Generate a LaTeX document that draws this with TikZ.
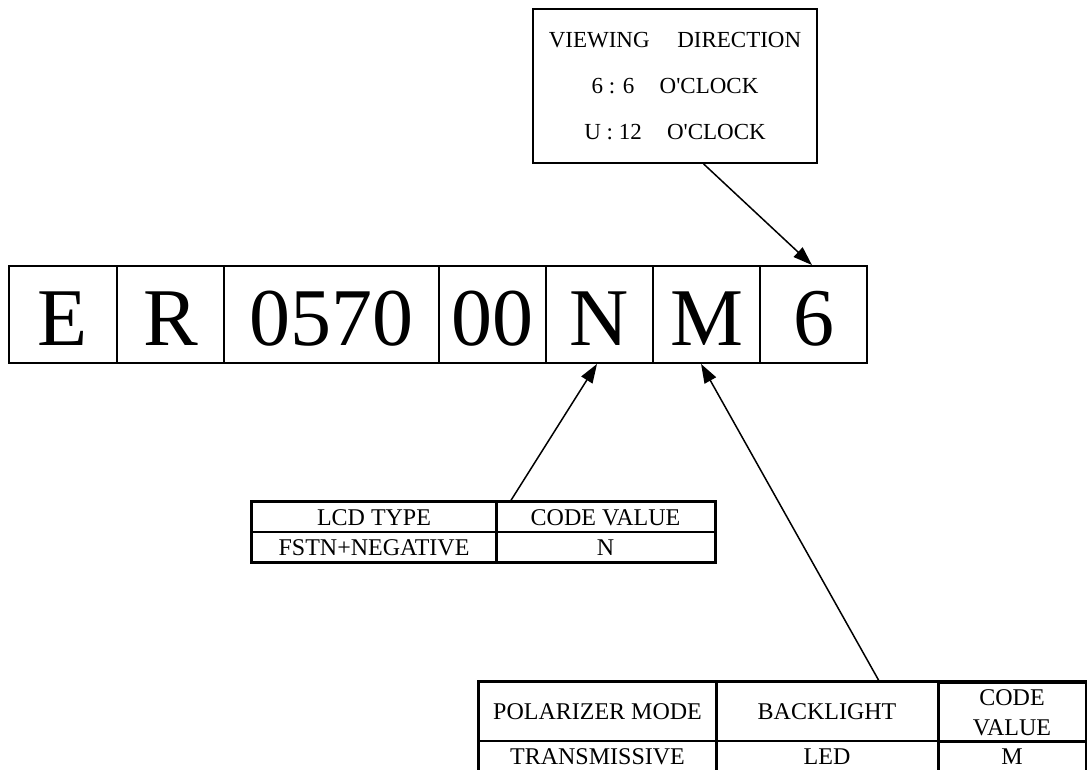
\documentclass[tikz,border=0pt]{standalone}
\usepackage{fontspec}
\setmainfont{Liberation Serif}
\usetikzlibrary{arrows.meta,calc}
\begin{document}
\begin{tikzpicture}[x=1pt,y=-1pt,
  big/.style={draw, line width=1.9pt, minimum height=97pt, inner sep=0pt,
    font=\fontsize{82}{82}\selectfont, text height=61pt, text depth=0pt},
  cell/.style={draw, line width=1.3pt, inner sep=0pt, align=center,
    font=\fontsize{24}{30}\selectfont},
  capline/.style={text height=16pt, text depth=0pt},
  frame/.style={line width=2pt},
  arr/.style={line width=1.5pt, -{Triangle[length=19pt,width=13pt]}}]
\useasboundingbox (0,0) rectangle (1087,769);

% viewing direction box
\node[draw, line width=1.8pt, minimum width=284pt, minimum height=154pt, inner sep=0pt,
  align=center, font=\fontsize{23}{46}\selectfont] (view) at (675,86)
  {VIEWING\hspace{1.2em}DIRECTION\\6 : 6\hspace{1.1em}O\textquotesingle CLOCK\\U : 12\hspace{1.1em}O\textquotesingle CLOCK};

% code boxes
\node[big, minimum width=108pt] (bE) at (63,314.5) {E};
\node[big, minimum width=107pt] (bR) at (170.5,314.5) {R};
\node[big, minimum width=215pt] (bNum) at (331.5,314.5) {0570};
\node[big, minimum width=107pt] (bZ) at (492.5,314.5) {00};
\node[big, minimum width=107pt] (bN) at (599.5,314.5) {N};
\node[big, minimum width=107pt] (bM) at (706.5,314.5) {M};
\node[big, minimum width=107pt] (b6) at (813.5,314.5) {6};

% LCD type table
\node[cell, capline, minimum width=244pt, minimum height=30pt] (l11) at (374,517) {LCD TYPE};
\node[cell, capline, minimum width=219pt, minimum height=30pt] (l12) at (605.5,517) {CODE VALUE};
\node[cell, capline, minimum width=244pt, minimum height=30pt] (l21) at (374,547) {FSTN+NEGATIVE};
\node[cell, capline, minimum width=219pt, minimum height=30pt] (l22) at (605.5,547) {N};
\draw[frame] (l11.north west) rectangle (l22.south east);
\draw[frame] (l11.north east) -- (l21.south east);

% polarizer table
\node[cell, capline, minimum width=237pt, minimum height=59pt] (p11) at (597.5,711.5) {POLARIZER MODE};
\node[cell, capline, minimum width=222pt, minimum height=59pt] (p12) at (827,711.5) {BACKLIGHT};
\node[cell, minimum width=148pt, minimum height=59pt] (p13) at (1012,712.5) {CODE\\VALUE};
\node[cell, capline, minimum width=237pt, minimum height=30pt] (p21) at (597.5,756) {TRANSMISSIVE};
\node[cell, capline, minimum width=222pt, minimum height=30pt] (p22) at (827,756) {LED};
\node[cell, capline, minimum width=148pt, minimum height=30pt] (p23) at (1012,756) {M};
\draw[frame] (p11.north west) rectangle (p23.south east);
\draw[frame] (p11.north east) -- (p21.south east);
\draw[frame] (p12.north east) -- (p22.south east);

% arrows
\draw[arr] ($(view.south west)!0.6!(view.south east)$) -- ($(b6.north west)!0.486!(b6.north east)$);
\draw[arr] ($(l12.north west)!0.068!(l12.north east)$) -- ($(bN.south west)!0.477!(bN.south east)$);
\draw[arr] ($(p12.north west)!0.734!(p12.north east)$) -- ($(bM.south west)!0.45!(bM.south east)$);
\end{tikzpicture}
\end{document}
